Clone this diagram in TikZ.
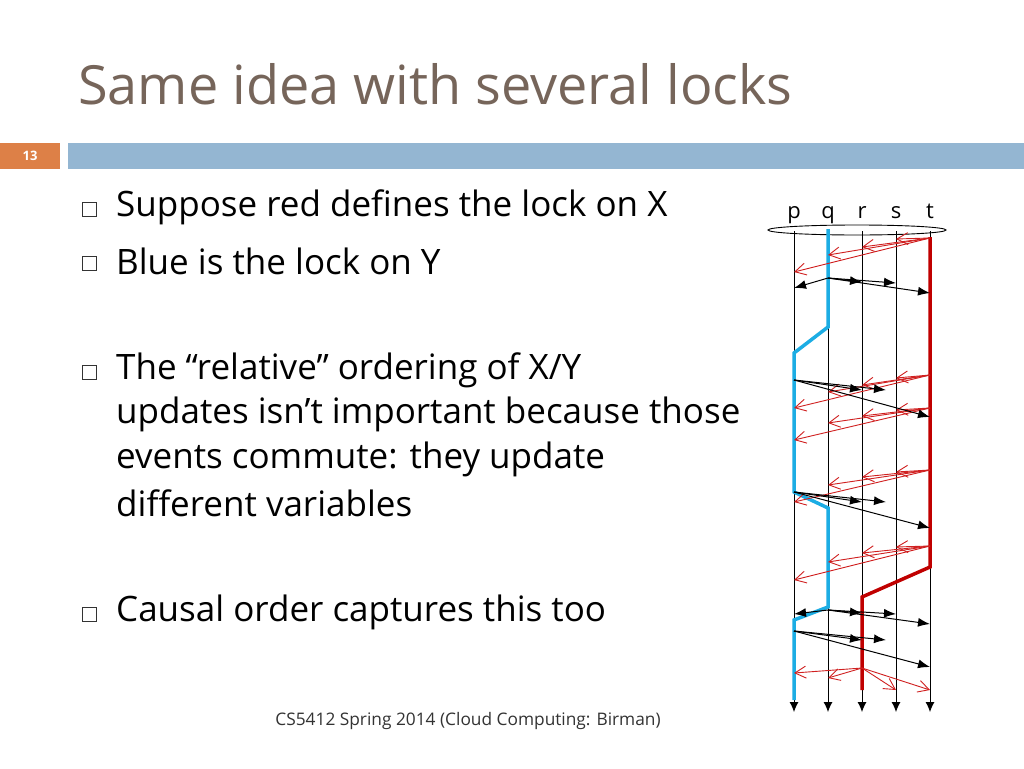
\documentclass[tikz,border=0pt]{standalone}
\usepackage{fontspec}
\setmainfont{Open Sans}
\usetikzlibrary{arrows.meta}
\definecolor{titlec}{HTML}{76655A}
\definecolor{barblue}{HTML}{94B6D2}
\definecolor{barorange}{HTML}{DD8047}
\definecolor{lblue}{HTML}{1CADE4}
\definecolor{dred}{HTML}{C00000}
\definecolor{mred}{HTML}{D02020}
\begin{document}
\begin{tikzpicture}[x=1pt,y=-1pt,
  bul/.style={draw=black!80,line width=1pt,minimum size=14pt,inner sep=0pt},
  btxt/.style={anchor=west,font=\fontsize{35}{40}\selectfont,inner sep=0pt},
  proc/.style={line width=0.9pt,-{Latex[length=10pt,width=9pt]}},
  bmsg/.style={line width=1pt,-{Latex[length=12pt,width=9pt]}},
  rmsg/.style={mred,line width=0.9pt,-{Straight Barb[length=11pt,width=12pt]}}]
\useasboundingbox (0,0) rectangle (1024,768);
\fill[white] (0,0) rectangle (1024,768);
\node[anchor=west,inner sep=0pt,text=titlec,font=\fontsize{54}{62}\selectfont] (title) at (78,84) {Same idea with several locks};
\fill[barorange] (0,143) rectangle (60,169);
\fill[barblue] (68,143) rectangle (1024,169);
\node[text=white,font=\fontsize{13}{15}\selectfont\bfseries] (num) at (30,156) {13};
\foreach \y/\t [count=\i] in {207/{Suppose red defines the lock on X},261/{Blue is the lock on Y},370/{The “relative” ordering of X/Y},612/{Causal order captures this too}}{
  \node[bul] (b\i) at (89,\y+2) {};
  \node[btxt] (t\i) at (116,\y) {\t};
}
\foreach \y/\t [count=\i] in {414/{updates isn’t important because those},459/{events commute: they update},503/{different variables}}{
  \node[btxt] (u\i) at (116,\y) {\t};
}
\node[font=\fontsize{17.3}{20}\selectfont,text=black!80] (foot) at (468,721) {CS5412 Spring 2014 (Cloud Computing: Birman)};
% processes
\foreach \n/\x in {p/794,q/828,r/862,s/896,t/930}{
  \node[font=\fontsize{22}{26}\selectfont,inner sep=0pt,anchor=base] (l\n) at (\x,218) {\n};
  \coordinate (\n0) at (\x,231);
  \coordinate (\n1) at (\x,712);
  \draw[proc] (\n0) -- (\n1);
}
\draw[line width=0.9pt] (857,230) ellipse (89 and 5);
% lock paths
\draw[lblue,line width=3.5pt] (828,229) -- (828,327) -- (794,353) -- (794,492) -- (828,508) -- (828,607) -- (794,620) -- (794,700);
\draw[dred,line width=3.5pt] (930,237) -- (930,567) -- (862,597) -- (862,690);
% red multicasts from t
\foreach \y/\a/\b/\c/\d in {238/239/247/255/272, 375/378/385/392/408, 408/410/416/423/440, 470/472/477/485/502, 546/547/553/562/580}{
  \coordinate (m) at (930,\y);
  \coordinate (ms) at (896,\a); \coordinate (mr) at (862,\b);
  \coordinate (mq) at (828,\c); \coordinate (mp) at (794,\d);
  \draw[rmsg] (m) -- (ms); \draw[rmsg] (m) -- (mr);
  \draw[rmsg] (m) -- (mq); \draw[rmsg] (m) -- (mp);
}
% red from r at bottom
\coordinate (rr) at (862,668);
\foreach \x/\y in {794/673,828/678,896/690,930/690}{\coordinate (e) at (\x,\y); \draw[rmsg] (rr) -- (e);}
% black from q
\coordinate (bq1) at (828,278);
\foreach \x/\y in {794/288,862/282,896/283,930/293}{\coordinate (e) at (\x,\y); \draw[bmsg] (bq1) -- (e);}
\coordinate (bq2) at (828,610);
\foreach \x/\y in {794/614,862/613,896/614,930/624}{\coordinate (e) at (\x,\y); \draw[bmsg] (bq2) -- (e);}
% black from p
\foreach \y/\a/\c in {380/390/417, 492/502/528, 631/640/667}{
  \coordinate (bp) at (794,\y);
  \coordinate (e1) at (862,\a); \coordinate (e2) at (886,\a); \coordinate (e3) at (930,\c);
  \draw[bmsg] (bp) -- (e1); \draw[bmsg] (bp) -- (e2); \draw[bmsg] (bp) -- (e3);
}
\end{tikzpicture}
\end{document}
